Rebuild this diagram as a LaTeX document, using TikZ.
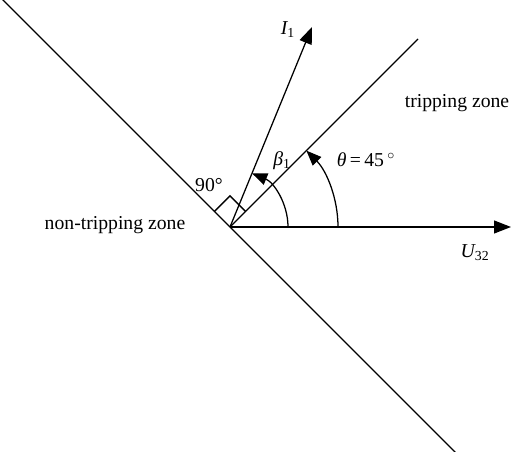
\documentclass[tikz,border=0pt]{standalone}
\usepackage{fontspec}
\setmainfont{Liberation Serif}
\usetikzlibrary{arrows.meta,calc,positioning}
\tikzset{
  wire/.style  = {line width=0.9pt},
  vec/.style   = {line width=0.9pt, -{Triangle[length=4.2mm,width=3.2mm]}},
  angarr/.style = {line width=0.9pt, -{Triangle[length=3.8mm,width=3mm]}},
  lbl/.style   = {font=\fontsize{14}{16}\selectfont, inner sep=1pt},
}

\begin{document}
\begin{tikzpicture}[x=0.025cm,y=0.025cm]
  \useasboundingbox (0,0) rectangle (513,452);
  \coordinate (O) at (230,225);
  \coordinate (nw) at (0,455);
  \coordinate (se) at (458,-3);
  \coordinate (bd) at (418,413);
  \coordinate (i1) at (312,425);
  \coordinate (u32) at (511,225);
  % lines and phasors
  \draw[wire] (nw) -- (se);
  \draw[wire] (O) -- (bd);
  \draw[vec] (O) -- (i1);
  \draw[vec] (O) -- (u32);
  % angles
  \draw[angarr] (O) ++(58,0) arc[start angle=0, end angle=67.7, radius=58];
  \draw[angarr] (O) ++(108,0) arc[start angle=0, end angle=45, radius=108];
  \draw[wire] (O) ++(135:22) -- ++(45:22) -- ++(-45:22);
  % labels
  \node[lbl] (li1) at (288,422) {\itshape I\textsubscript{\upshape 1}};
  \node[lbl] (l90) at (209,267) {90°};
  \node[lbl] (lbeta) at (282,291) {\itshape β\textsubscript{\upshape 1}};
  \node[lbl] (ltheta) at (366,292) {{\itshape θ}\,=\,45\,\textsuperscript{$\circ$}};
  \node[lbl] (ltrip) at (457,349) {tripping zone};
  \node[lbl] (lnon) at (115,227) {non-tripping zone};
  \node[lbl] (lu32) at (475,199) {\itshape U\textsubscript{\upshape 32}};
\end{tikzpicture}
\end{document}
